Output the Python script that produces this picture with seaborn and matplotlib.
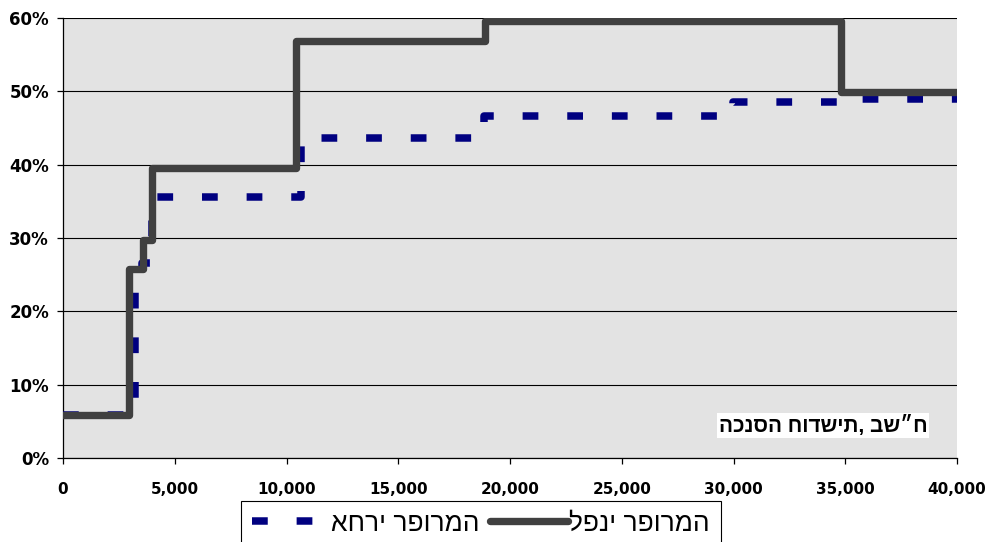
import matplotlib
matplotlib.use("Agg")
import matplotlib.pyplot as plt
import matplotlib.ticker as mticker
import pandas as pd
import seaborn as sns

# monthly income (NIS) where the rate steps, and rate from there on (%)
before_income = [0, 2970, 3560, 4000, 10430, 18880, 34800, 40000]
before_rate = [5.8, 25.8, 29.7, 39.6, 56.9, 59.6, 49.9, 49.9]

after_income = [0, 3200, 3530, 3980, 10650, 18840, 29980, 34900, 40000]
after_rate = [5.8, 22.8, 26.6, 35.6, 43.7, 46.7, 48.6, 48.9, 48.9]

before_label = "לפני רפורמה"
after_label = "אחרי רפורמה"
x_title = "הכנסה חודשית, בש״ח"

x_ticks = [0, 5000, 10000, 15000, 20000, 25000, 30000, 35000, 40000]
y_ticks = [0, 10, 20, 30, 40, 50, 60]

heb_fonts = ["Liberation Sans", "DejaVu Sans"]

before_df = pd.DataFrame({"income": before_income, "rate": before_rate})
after_df = pd.DataFrame({"income": after_income, "rate": after_rate})

fig = plt.figure(figsize=(9.9, 5.42), dpi=100)
ax = fig.add_axes([63 / 990, 1 - 458 / 542, 894 / 990, 440 / 542])
ax.set_facecolor("#e3e3e3")

# blue dashed one first, grey goes over it
sns.lineplot(data=after_df, x="income", y="rate", ax=ax, color="#000080",
             linewidth=5.4, drawstyle="steps-post", linestyle=(0, (2.1, 3.85)),
             dash_capstyle="butt", label=after_label, zorder=3)
sns.lineplot(data=before_df, x="income", y="rate", ax=ax, color="#404040",
             linewidth=5.3, drawstyle="steps-post", solid_capstyle="round",
             solid_joinstyle="round", label=before_label, zorder=4)

ax.set_xlim(0, 40000)
ax.set_ylim(0, 60)
ax.set_xticks(x_ticks)
ax.set_yticks(y_ticks)
ax.xaxis.set_major_formatter(mticker.FuncFormatter(lambda v, p: "{:,.0f}".format(v)))
ax.yaxis.set_major_formatter(mticker.FuncFormatter(lambda v, p: "{:.0f}%".format(v)))
ax.set_xlabel("")
ax.set_ylabel("")

ax.grid(axis="y", color="black", linewidth=0.8)
ax.set_axisbelow(True)
for side in ["top", "right"]:
  ax.spines[side].set_visible(False)
for side in ["left", "bottom"]:
  ax.spines[side].set_color("black")
  ax.spines[side].set_linewidth(0.9)

ax.tick_params(axis="x", length=4, width=0.9, pad=13, labelsize=11)
ax.tick_params(axis="y", length=4, width=0.9, pad=6, labelsize=12)
for lab in ax.get_xticklabels() + ax.get_yticklabels():
  lab.set_fontweight("bold")

ax.text(34000, 4.43, x_title, ha="center", va="center", fontsize=15,
        fontweight="bold", family=heb_fonts,
        bbox=dict(boxstyle="square,pad=0.08", fc="white", ec="none"), zorder=5)

# legend box runs off the bottom edge like in the original
handles, labels = ax.get_legend_handles_labels()
leg = ax.legend(handles, labels, loc="upper left",
                bbox_to_anchor=(241 / 990, 1 - 501 / 542),
                bbox_transform=fig.transFigure, ncol=2, frameon=True,
                fancybox=False, edgecolor="black", framealpha=1,
                borderaxespad=0, handlelength=2.95, handletextpad=0.05,
                columnspacing=0.42, borderpad=0.4,
                prop={"family": heb_fonts, "size": 19})
leg.get_frame().set_linewidth(0.8)

fig.savefig("out.png", dpi=100)
